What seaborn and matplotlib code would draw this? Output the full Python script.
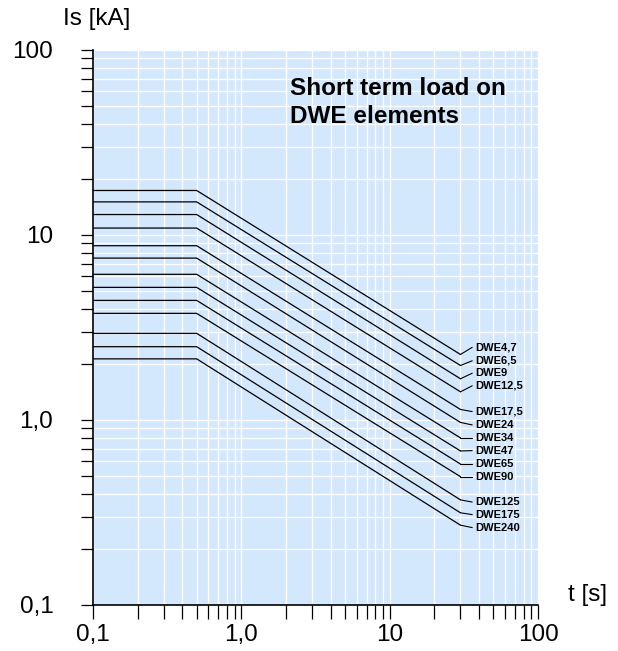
import numpy as np
import pandas as pd
import seaborn as sns
import matplotlib.pyplot as plt
from matplotlib.ticker import FixedLocator, NullFormatter

# data
names = ["DWE4,7", "DWE6,5", "DWE9", "DWE12,5", "DWE17,5", "DWE24", "DWE34",
         "DWE47", "DWE65", "DWE90", "DWE125", "DWE175", "DWE240"]
i_start = [17.4, 15.1, 12.9, 10.9, 8.75, 7.5, 6.13, 5.21, 4.43, 3.77, 2.94, 2.49, 2.14]
i_end = [2.26, 1.97, 1.67, 1.42, 1.14, 0.97, 0.80, 0.68, 0.578, 0.494, 0.37, 0.315, 0.27]
t_points = [0.1, 0.5, 30]
label_y = [2.47, 2.09, 1.79, 1.53, 1.11, 0.94, 0.80, 0.683, 0.578, 0.494, 0.36, 0.308, 0.262]

major = [0.1, 1, 10, 100]
x_ticklabels = ["0,1", "1,0", "10", "100"]
y_ticklabels = ["0,1", "1,0", "10", "100"]

rows = []
for n, a, b in zip(names, i_start, i_end):
    for t, v in zip(t_points, [a, a, b]):
        rows.append({"element": n, "t": t, "Is": v})
df = pd.DataFrame(rows)

sns.set_theme(style="ticks")
plt.rcParams["font.family"] = ["Liberation Sans", "DejaVu Sans"]
plt.rcParams["text.color"] = "black"
plt.rcParams["xtick.color"] = "black"
plt.rcParams["ytick.color"] = "black"
plt.rcParams["xtick.labelcolor"] = "black"
plt.rcParams["ytick.labelcolor"] = "black"

fig = plt.figure(figsize=(6.18, 6.51), dpi=100)
ax = fig.add_axes([0.1505, 0.0707, 0.7201, 0.8525])
ax.set_facecolor("#D3E7FD")

sns.lineplot(data=df, x="t", y="Is", units="element", estimator=None,
             color="black", linewidth=0.9, sort=False, legend=False, ax=ax)

ax.set_xscale("log")
ax.set_yscale("log")
ax.set_xlim(0.1, 100)
ax.set_ylim(0.1, 100)

minor = [m * d for d in [0.1, 1, 10] for m in range(2, 10)]
ax.xaxis.set_major_locator(FixedLocator(major))
ax.yaxis.set_major_locator(FixedLocator(major))
ax.xaxis.set_minor_locator(FixedLocator(minor))
ax.yaxis.set_minor_locator(FixedLocator(minor))
ax.xaxis.set_minor_formatter(NullFormatter())
ax.yaxis.set_minor_formatter(NullFormatter())
ax.set_xticklabels(x_ticklabels)
ax.set_yticklabels(y_ticklabels)
ax.tick_params(which="both", direction="out", width=0.9, color="black",
               labelcolor="black", labelsize=17.5)
ax.tick_params(axis="x", which="both", length=10, pad=4)
ax.tick_params(axis="y", which="both", length=8.6, pad=20)

ax.grid(which="both", color="white", linewidth=1)
ax.set_axisbelow(True)
for s in ["top", "right"]:
    ax.spines[s].set_visible(False)
for s in ["left", "bottom"]:
    ax.spines[s].set_color("black")
    ax.spines[s].set_linewidth(1.2)
ax.set_xlabel("")
ax.set_ylabel("")

# leader lines and labels
for n, e, ly in zip(names, i_end, label_y):
    ax.plot([30, 36], [e, ly], color="black", linewidth=0.8)
    ax.text(37.5, ly, n, fontsize=8, fontweight="bold", ha="left", va="center",
            color="black")

ax.text(0.443, 0.952, "Short term load on\nDWE elements", transform=ax.transAxes,
        fontsize=17.5, fontweight="bold", ha="left", va="top", linespacing=1.3,
        color="black")

fig.text(63 / 618, 1 - 18.5 / 651, "Is [kA]", fontsize=17.5, ha="left", va="center")
fig.text(568 / 618, 1 - 595 / 651, "t [s]", fontsize=17.5, ha="left", va="center")

fig.savefig("out.png", dpi=100)
